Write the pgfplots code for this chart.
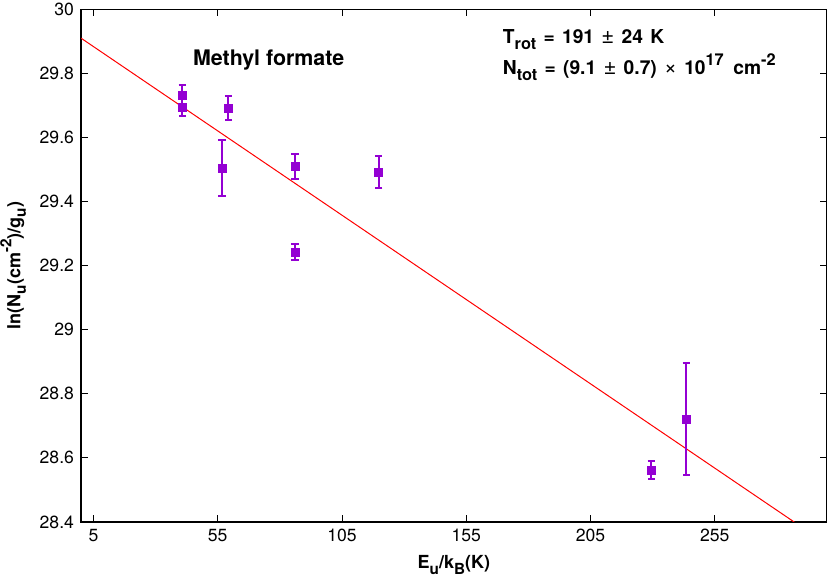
\documentclass[border=0pt]{standalone}
\usepackage{fontspec}
\setmainfont{TeX Gyre Heros}
\usepackage{graphicx}
\usepackage{pgfplots}
\usepackage{pgfplotstable}
\pgfplotsset{compat=1.18}
\definecolor{pur}{HTML}{9400D3}
\newcommand\sub[1]{\raisebox{-0.3em}{\scalebox{0.85}{#1}}}
\newcommand\sups[1]{\raisebox{0.5em}{\scalebox{0.85}{#1}}}
\newcommand\gsp{\hspace{0.38em}}
\newcommand\pmx{{\mdseries\scalebox{1.15}{±}}}
\newcommand\tmx{{\mdseries\scalebox{1.15}{×}}}
\pgfplotstableread{
x y e
40.7 29.730 0.035
40.7 29.695 0.029
59.3 29.692 0.038
56.7 29.504 0.087
86.1 29.509 0.040
86.1 29.242 0.026
119.8 29.492 0.050
229.4 28.562 0.029
243.5 28.721 0.176
}\datatab
\begin{document}
\begin{tikzpicture}
\begin{axis}[
  scale only axis, width=372.8pt, height=256.3pt,
  xmin=0, xmax=300, ymin=28.4, ymax=30,
  xtick={5,55,105,155,205,255},
  ytick={28.4,28.6,28.8,29,29.2,29.4,29.6,29.8,30},
  tick align=inside, major tick length=3.5pt,
  axis line style={line width=0.6pt},
  every tick/.style={black, line width=0.5pt},
  ticklabel style={font=\fontsize{8.8}{10}\selectfont},
  /pgf/number format/assume math mode=true,
  label style={font=\fontsize{9}{10}\selectfont\bfseries},
  xlabel={E\sub{u}/k\sub{B}(K)},
  ylabel={ln(N\sub{u}(cm\sups{-2})/g\sub{u})},
]
\addplot[red, line width=0.5pt] coordinates {(0,29.91) (300,28.331)};
\addplot[only marks, mark=square*, mark size=2pt, color=pur,
  error bars/.cd, y dir=both, y explicit,
  error bar style={line width=1pt, pur},
  error mark options={rotate=90, mark size=1.8pt, line width=1pt, pur}]
  table[x=x, y=y, y error=e]{\datatab};
\node[anchor=base, inner sep=0pt, font=\fontsize{10.7}{12}\selectfont\bfseries] at (axis cs:75.5,29.826) {Methyl formate};
\node[anchor=base west, inner sep=0pt, font=\fontsize{9.6}{10}\selectfont\bfseries] at (axis cs:169.6,29.894) {T\sub{rot}\gsp=\gsp191\gsp\pmx\gsp24\gsp K};
\node[anchor=base west, inner sep=0pt, font=\fontsize{9.6}{10}\selectfont\bfseries] at (axis cs:169.6,29.795) {N\sub{tot}\gsp=\gsp(9.1\gsp\pmx\gsp0.7)\gsp\tmx\gsp10\sups{17}\hspace{0.5em}cm\sups{-2}};
\coordinate (sw) at (rel axis cs:0,0);
\coordinate (ne) at (rel axis cs:1,1);
\end{axis}
\pgfresetboundingbox
\path ([xshift=-40.5pt, yshift=-27.5pt]sw) rectangle ([xshift=2.15pt, yshift=4.65pt]ne);
\end{tikzpicture}
\end{document}
